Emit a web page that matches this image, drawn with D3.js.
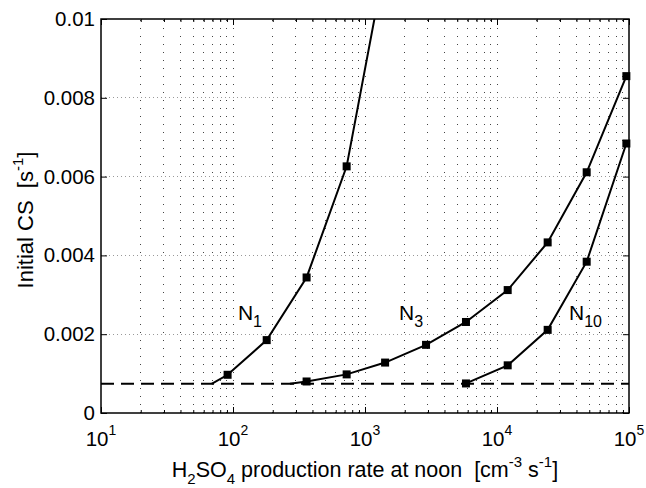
<!DOCTYPE html>
<html><head><meta charset="utf-8">
<script src="https://cdn.jsdelivr.net/npm/d3@7"></script>
<style>
body{margin:0;background:#fff;}
text{font-family:"Liberation Sans",Arial,Helvetica,sans-serif;fill:#000;}
</style></head>
<body><svg id="c" width="646" height="488"></svg>
<script>
// ---- data ----
const n1X = [68.9, 91, 180, 361, 726, 1450];
const n1Y = [0.00074, 0.00097, 0.00185, 0.00344, 0.00626, 0.0116];
const n1Marker = [false, true, true, true, true, true];
const n3X = [270, 361, 726, 1420, 2900, 5820, 12050, 24200, 47800, 95500];
const n3Y = [0.00074, 0.0008, 0.00098, 0.00128, 0.00173, 0.00231, 0.00312, 0.00433, 0.00611, 0.00855];
const n3Marker = [false, true, true, true, true, true, true, true, true, true];
const n10X = [5820, 12050, 24200, 47800, 95500];
const n10Y = [0.00075, 0.00121, 0.00211, 0.00384, 0.00684];
const n10Marker = [true, true, true, true, true];
const thresholdY = 0.00074;
const thresholdX = [10, 100000];
const xTickExps = [1, 2, 3, 4, 5];
const yTicks = [0, 0.002, 0.004, 0.006, 0.008, 0.01];
const yTickLabels = ["0", "0.002", "0.004", "0.006", "0.008", "0.01"];
const seriesLabels = [
  {base: "N", sub: "1", x: 109, y: 0.00236},
  {base: "N", sub: "3", x: 1811, y: 0.00236},
  {base: "N", sub: "10", x: 35100, y: 0.00236}
];

// ---- layout ----
const L = 101, R = 629, T = 19, B = 413;
const svg = d3.select("#c");
const x = d3.scaleLog().domain([10, 100000]).range([L, R]);
const y = d3.scaleLinear().domain([0, 0.01]).range([B, T]);

svg.append("defs").append("clipPath").attr("id", "clip")
  .append("rect").attr("x", L).attr("y", T).attr("width", R - L).attr("height", B - T);

// minor + major vertical grid
const vGrid = [];
for (let e = 1; e < 5; e++) for (let m = 1; m <= 9; m++) { if (e === 1 && m === 1) continue; vGrid.push(m * Math.pow(10, e)); }
svg.append("g").selectAll("line").data(vGrid).join("line")
  .attr("x1", d => x(d)).attr("x2", d => x(d)).attr("y1", B).attr("y2", T)
  .attr("stroke", "#444").attr("stroke-width", 1).attr("stroke-dasharray", "1,7").attr("shape-rendering", "crispEdges");
// horizontal grid
svg.append("g").selectAll("line").data(yTicks.slice(1, -1)).join("line")
  .attr("x1", L).attr("x2", R).attr("y1", d => y(d)).attr("y2", d => y(d))
  .attr("stroke", "#999").attr("stroke-width", 1).attr("stroke-dasharray", "1,3").attr("shape-rendering", "crispEdges");

// axes via d3
const minorX = [];
for (let e = 1; e < 5; e++) for (let m = 2; m <= 9; m++) minorX.push(m * Math.pow(10, e));
const majorX = xTickExps.map(e => Math.pow(10, e));
function tickStyle(g){ g.select(".domain").remove(); g.selectAll("line").attr("stroke","#000").attr("stroke-width",1); g.selectAll("text").remove(); }
svg.append("g").attr("transform", `translate(0,${B})`).call(d3.axisBottom(x).tickValues(minorX).tickSize(-3)).call(tickStyle);
svg.append("g").attr("transform", `translate(0,${T})`).call(d3.axisTop(x).tickValues(minorX).tickSize(-3)).call(tickStyle);
svg.append("g").attr("transform", `translate(0,${B})`).call(d3.axisBottom(x).tickValues(majorX).tickSize(-6)).call(tickStyle);
svg.append("g").attr("transform", `translate(0,${T})`).call(d3.axisTop(x).tickValues(majorX).tickSize(-6)).call(tickStyle);
svg.append("g").attr("transform", `translate(${L},0)`).call(d3.axisLeft(y).tickValues(yTicks).tickSize(-6)).call(tickStyle);
svg.append("g").attr("transform", `translate(${R},0)`).call(d3.axisRight(y).tickValues(yTicks).tickSize(-6)).call(tickStyle);

// box
svg.append("rect").attr("x", L).attr("y", T).attr("width", R - L).attr("height", B - T)
  .attr("fill", "none").attr("stroke", "#000").attr("stroke-width", 1.5);

// tick labels
const xl = svg.append("g");
xTickExps.forEach(e => {
  const t = xl.append("text").attr("x", x(Math.pow(10, e))).attr("y", 446)
    .attr("text-anchor", "middle").attr("font-size", 20.5);
  t.append("tspan").text("10");
  t.append("tspan").attr("font-size", 14).attr("dy", -11).text(String(e));
});
svg.append("g").selectAll("text").data(yTicks).join("text")
  .attr("x", 95).attr("y", d => y(d) + 7).attr("text-anchor", "end").attr("font-size", 20.5)
  .text((d, i) => yTickLabels[i]);

// axis titles
const xt = svg.append("text").attr("x", (L + R) / 2).attr("y", 477).attr("text-anchor", "middle").attr("font-size", 21.5);
xt.append("tspan").text("H");
xt.append("tspan").attr("font-size", 15).attr("dy", 7).text("2");
xt.append("tspan").attr("dy", -7).text("SO");
xt.append("tspan").attr("font-size", 15).attr("dy", 7).text("4");
xt.append("tspan").attr("dy", -7).text(" production rate at noon\u00a0\u00a0[cm");
xt.append("tspan").attr("font-size", 15).attr("dy", -10).text("-3");
xt.append("tspan").attr("dy", 10).text(" s");
xt.append("tspan").attr("font-size", 15).attr("dy", -10).text("-1");
xt.append("tspan").attr("dy", 10).text("]");

const yt = svg.append("text").attr("transform", `translate(33,${(T + B) / 2 + 4}) rotate(-90)`)
  .attr("text-anchor", "middle").attr("font-size", 22);
yt.append("tspan").text("Initial CS\u00a0\u00a0[s");
yt.append("tspan").attr("font-size", 15).attr("dy", -10).text("-1");
yt.append("tspan").attr("dy", 10).text("]");

// threshold dashed line
const line = d3.line().x(d => x(d[0])).y(d => y(d[1]));
svg.append("path").attr("d", line(thresholdX.map(v => [v, thresholdY])))
  .attr("fill", "none").attr("stroke", "#000").attr("stroke-width", 2).attr("stroke-dasharray", "13,7")
  .attr("clip-path", "url(#clip)");

// series
const plot = svg.append("g").attr("clip-path", "url(#clip)");
[[n1X, n1Y, n1Marker], [n3X, n3Y, n3Marker], [n10X, n10Y, n10Marker]].forEach(([xs, ys, ms]) => {
  const pts = xs.map((v, i) => [v, ys[i], ms[i]]);
  plot.append("path").attr("d", line(pts)).attr("fill", "none").attr("stroke", "#000").attr("stroke-width", 2);
  svg.append("g").selectAll("rect").data(pts.filter(p => p[2] && p[1] <= 0.01)).join("rect")
    .attr("x", d => x(d[0]) - 4).attr("y", d => y(d[1]) - 4).attr("width", 8).attr("height", 8).attr("fill", "#000");
});

// series labels
seriesLabels.forEach(s => {
  const t = svg.append("text").attr("x", x(s.x)).attr("y", y(s.y)).attr("font-size", 21);
  t.append("tspan").text(s.base);
  t.append("tspan").attr("font-size", 16).attr("dy", 7).text(s.sub);
});
</script></body></html>
